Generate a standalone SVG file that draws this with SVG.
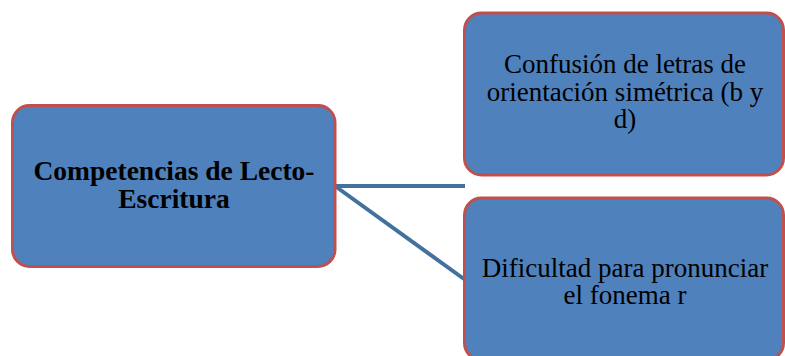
<svg xmlns="http://www.w3.org/2000/svg" width="785" height="356" viewBox="0 0 785 356">
  <style>
    .box { fill: #4F81BD; stroke: #C0504D; stroke-width: 3; }
    .conn { stroke: #41719C; stroke-width: 4; fill: none; stroke-linecap: butt; }
    .t { font-family: "Liberation Serif", "Times New Roman", serif; font-size: 27px; fill: #000; text-anchor: middle; }
    .b { font-weight: bold; font-size: 27.5px; }
  </style>
  <rect width="785" height="356" fill="#FFFFFF"/>
  <g id="connectors">
    <line class="conn" x1="335" y1="186" x2="465" y2="186"/>
    <line class="conn" x1="335" y1="186" x2="464" y2="279"/>
  </g>
  <g id="node-competencias">
    <rect class="box" x="12.5" y="105.5" width="322.5" height="161" rx="17" ry="17"/>
    <text class="t b" x="174" y="180">Competencias de Lecto-</text>
    <text class="t b" x="174" y="208">Escritura</text>
  </g>
  <g id="node-confusion">
    <rect class="box" x="464.5" y="13" width="319" height="162" rx="17" ry="17"/>
    <text class="t" x="625" y="73">Confusión de letras de</text>
    <text class="t" x="625" y="100.5">orientación simétrica (b y</text>
    <text class="t" x="625" y="128">d)</text>
  </g>
  <g id="node-dificultad">
    <rect class="box" x="464.5" y="198" width="319" height="162" rx="17" ry="17"/>
    <text class="t" x="625" y="276.5">Dificultad para pronunciar</text>
    <text class="t" x="625" y="304">el fonema r</text>
  </g>
</svg>
